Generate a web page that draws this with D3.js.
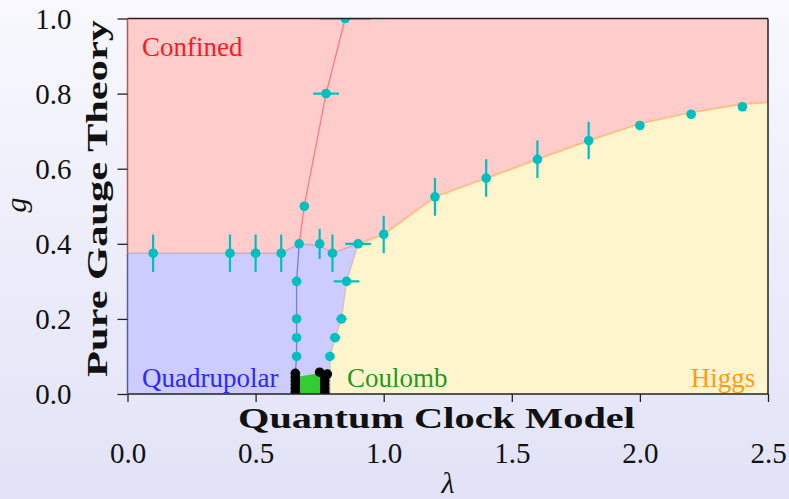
<!DOCTYPE html>
<html>
<head>
<meta charset="utf-8">
<script src="https://cdn.jsdelivr.net/npm/d3@7"></script>
<style>
	html, body { margin: 0; padding: 0; }
	body { width: 789px; height: 499px; overflow: hidden; }
</style>
</head>
<body>
<svg id="chart" width="789" height="499"></svg>
<script>
// measured points on the phase diagram: [lambda, g, xerr, yerr]
var cyanPts = [
	[0.1, 0.375, 0, 0.05], [0.4, 0.375, 0, 0.05], [0.5, 0.375, 0, 0.05], [0.6, 0.375, 0, 0.05],
	[0.67, 0.4, 0, 0], [0.75, 0.4, 0, 0.04], [0.8, 0.375, 0, 0.05], [0.9, 0.4, 0.05, 0],
	[1.0, 0.425, 0, 0.05], [1.2, 0.525, 0, 0.05], [1.4, 0.575, 0, 0.05], [1.6, 0.625, 0, 0.05],
	[1.8, 0.675, 0, 0.05], [2.0, 0.715, 0, 0], [2.2, 0.745, 0, 0], [2.4, 0.765, 0, 0],
	[0.69, 0.5, 0, 0], [0.775, 0.8, 0.05, 0], [0.85, 1.0, 0.1, 0],
	[0.66, 0.3, 0, 0], [0.66, 0.2, 0, 0], [0.66, 0.15, 0, 0], [0.66, 0.1, 0, 0],
	[0.855, 0.3, 0.05, 0], [0.835, 0.2, 0.02, 0], [0.81, 0.15, 0.02, 0], [0.79, 0.1, 0, 0]
];
var blackPts = [
	[0.655, 0.055], [0.655, 0.045], [0.655, 0.035], [0.655, 0.025], [0.655, 0.015], [0.655, 0.005],
	[0.75, 0.058], [0.78, 0.053], [0.77, 0.045], [0.77, 0.035], [0.77, 0.025], [0.77, 0.015], [0.77, 0.005]
];
// phase boundaries
var confinedEdge = [[0, 0.375], [0.1, 0.375], [0.4, 0.375], [0.5, 0.375], [0.6, 0.375], [0.67, 0.4], [0.75, 0.395], [0.8, 0.375], [0.9, 0.4]];
var higgsEdge = [[0.9, 0.4], [1.0, 0.425], [1.2, 0.525], [1.4, 0.575], [1.6, 0.625], [1.8, 0.675], [2.0, 0.72], [2.2, 0.75], [2.4, 0.772], [2.5, 0.777]];
var coulombEdge = [[0.79, 0], [0.79, 0.1], [0.81, 0.15], [0.835, 0.2], [0.855, 0.3], [0.9, 0.4]];
var redLine = [[0.67, 0.4], [0.69, 0.5], [0.775, 0.8], [0.85, 1.0]];
var blueLine = [[0.655, 0.055], [0.66, 0.1], [0.66, 0.3], [0.67, 0.4]];
var greenArea = [[0.66, 0], [0.66, 0.045], [0.7, 0.05], [0.75, 0.056], [0.77, 0.045], [0.77, 0]];
var xTicks = [0, 0.5, 1.0, 1.5, 2.0, 2.5];
var yTicks = [0, 0.2, 0.4, 0.6, 0.8, 1.0];
var phaseLabels = [
	{text: "Confined", lam: 0.057, g: 0.9, color: "#ff1a1a", anchor: "start"},
	{text: "Quadrupolar", lam: 0.057, g: 0.019, color: "#2a2aff", anchor: "start"},
	{text: "Coulomb", lam: 0.857, g: 0.019, color: "#1e9a1e", anchor: "start"},
	{text: "Higgs", lam: 2.45, g: 0.019, color: "#ff9a1a", anchor: "end"}
];

var SERIF = "'Liberation Serif', 'Times New Roman', serif";
var svg = d3.select("#chart");
var W = 789, H = 499;
var L = 127.5, R = 768, T = 18.5, B = 394;
var x = d3.scaleLinear().domain([0, 2.5]).range([L, R]);
var y = d3.scaleLinear().domain([0, 1]).range([B, T]);
var line = d3.line().x(function(d){ return x(d[0]); }).y(function(d){ return y(d[1]); });

// background
var defs = svg.append("defs");
var grad = defs.append("linearGradient").attr("id", "bg").attr("x1", 0).attr("y1", 0).attr("x2", 0).attr("y2", 1);
grad.append("stop").attr("offset", "0%").attr("stop-color", "#f8f8fe");
grad.append("stop").attr("offset", "100%").attr("stop-color", "#e1e2f6");
svg.append("rect").attr("width", W).attr("height", H).attr("fill", "url(#bg)");
defs.append("clipPath").attr("id", "plotclip").append("rect")
	.attr("x", L).attr("y", T).attr("width", R - L).attr("height", B - T);

var plot = svg.append("g").attr("clip-path", "url(#plotclip)");
// confined = everything
plot.append("rect").attr("x", L).attr("y", T).attr("width", R - L).attr("height", B - T).attr("fill", "#ffcccc");
// quadrupolar
var bluePoly = [[0, 0]].concat(confinedEdge, coulombEdge.slice().reverse());
plot.append("path").attr("d", line(bluePoly) + "Z").attr("fill", "#ccccff");
// higgs
var yellowPoly = coulombEdge.concat(higgsEdge.slice(1), [[2.5, 0]]);
plot.append("path").attr("d", line(yellowPoly) + "Z").attr("fill", "#fff5cc");
// coulomb
plot.append("path").attr("d", line(greenArea) + "Z").attr("fill", "#33cc33");

// boundary strokes
plot.append("path").attr("d", line(confinedEdge)).attr("fill", "none").attr("stroke", "#e4a0cc").attr("stroke-width", 1.5);
plot.append("path").attr("d", line(higgsEdge)).attr("fill", "none").attr("stroke", "#ffbf88").attr("stroke-width", 2);
plot.append("path").attr("d", line(coulombEdge)).attr("fill", "none").attr("stroke", "#cfc4c0").attr("stroke-width", 1.5);
plot.append("path").attr("d", line(redLine)).attr("fill", "none").attr("stroke", "#ff7a7a").attr("stroke-width", 1.3);
plot.append("path").attr("d", line(blueLine)).attr("fill", "none").attr("stroke", "#7a7aff").attr("stroke-width", 1.3);

// phase labels
plot.selectAll(".phase").data(phaseLabels).enter().append("text")
	.attr("class", "phase")
	.attr("x", function(d){ return x(d.lam); })
	.attr("y", function(d){ return y(d.g); })
	.attr("text-anchor", function(d){ return d.anchor; })
	.attr("fill", function(d){ return d.color; })
	.style("font-family", SERIF)
	.style("font-size", "27px")
	.text(function(d){ return d.text; });

// error bars
var cyan = "#00bfbf";
plot.selectAll(".xerr").data(cyanPts.filter(function(d){ return d[2] > 0; })).enter().append("line")
	.attr("x1", function(d){ return x(d[0] - d[2]); }).attr("x2", function(d){ return x(d[0] + d[2]); })
	.attr("y1", function(d){ return y(d[1]); }).attr("y2", function(d){ return y(d[1]); })
	.attr("stroke", cyan).attr("stroke-width", 2.2);
plot.selectAll(".yerr").data(cyanPts.filter(function(d){ return d[3] > 0; })).enter().append("line")
	.attr("x1", function(d){ return x(d[0]); }).attr("x2", function(d){ return x(d[0]); })
	.attr("y1", function(d){ return y(d[1] - d[3]); }).attr("y2", function(d){ return y(d[1] + d[3]); })
	.attr("stroke", cyan).attr("stroke-width", 2.2);
plot.selectAll(".cpt").data(cyanPts).enter().append("circle")
	.attr("cx", function(d){ return x(d[0]); }).attr("cy", function(d){ return y(d[1]); })
	.attr("r", 4.8).attr("fill", cyan);
plot.selectAll(".bpt").data(blackPts).enter().append("circle")
	.attr("cx", function(d){ return x(d[0]); }).attr("cy", function(d){ return y(d[1]); })
	.attr("r", 4.8).attr("fill", "#000");

// spines
var ax = svg.append("g").attr("stroke-width", 1.5).attr("fill", "none");
ax.append("line").attr("x1", L).attr("x2", R).attr("y1", T).attr("y2", T).attr("stroke", "#222");
ax.append("line").attr("x1", R).attr("x2", R).attr("y1", T).attr("y2", B).attr("stroke", "#222");
ax.append("line").attr("x1", L).attr("x2", R).attr("y1", B).attr("y2", B).attr("stroke", "#222");
ax.append("line").attr("x1", L).attr("x2", L).attr("y1", T).attr("y2", y(0.375)).attr("stroke", "#b05a5a");
ax.append("line").attr("x1", L).attr("x2", L).attr("y1", y(0.375)).attr("y2", B).attr("stroke", "#5a5aa8");

// ticks
var xAxis = d3.axisBottom(x).tickValues(xTicks).tickSize(8).tickPadding(40).tickFormat(d3.format(".1f"));
var gx = svg.append("g").attr("transform", "translate(0," + B + ")").call(xAxis);
gx.select(".domain").remove();
gx.selectAll(".tick line").attr("stroke", "#222").attr("stroke-width", 1.3);
gx.selectAll(".tick text").attr("fill", "#111").style("font-size", "29px")
	.style("font-family", SERIF).attr("dy", "0.71em");

var yAxis = d3.axisLeft(y).tickValues(yTicks).tickSize(10).tickPadding(46).tickFormat(d3.format(".1f"));
var gy = svg.append("g").attr("transform", "translate(" + L + ",0)").call(yAxis);
gy.select(".domain").remove();
gy.selectAll(".tick line").attr("stroke", "#222").attr("stroke-width", 1.3);
gy.selectAll(".tick text").attr("fill", "#111").style("font-size", "29px")
	.style("font-family", SERIF).attr("dy", "0.33em");

// axis titles
svg.append("text").attr("x", 436.5).attr("y", 428).attr("text-anchor", "middle")
	.attr("textLength", 397).attr("lengthAdjust", "spacingAndGlyphs")
	.style("font-family", SERIF).style("font-size", "30px").style("font-weight", "bold").attr("fill", "#111")
	.text("Quantum Clock Model");
svg.append("text").attr("transform", "translate(107,198.5) rotate(-90)").attr("text-anchor", "middle")
	.attr("textLength", 357).attr("lengthAdjust", "spacingAndGlyphs")
	.style("font-family", SERIF).style("font-size", "30px").style("font-weight", "bold").attr("fill", "#111")
	.text("Pure Gauge Theory");
svg.append("text").attr("x", 448).attr("y", 493).attr("text-anchor", "middle")
	.style("font-family", SERIF).style("font-size", "30px").style("font-style", "italic").attr("fill", "#111")
	.text("λ");
svg.append("text").attr("transform", "translate(26,205) rotate(-90)").attr("text-anchor", "middle")
	.style("font-family", SERIF).style("font-size", "30px").style("font-style", "italic").attr("fill", "#111")
	.text("g");
</script>
</body>
</html>
